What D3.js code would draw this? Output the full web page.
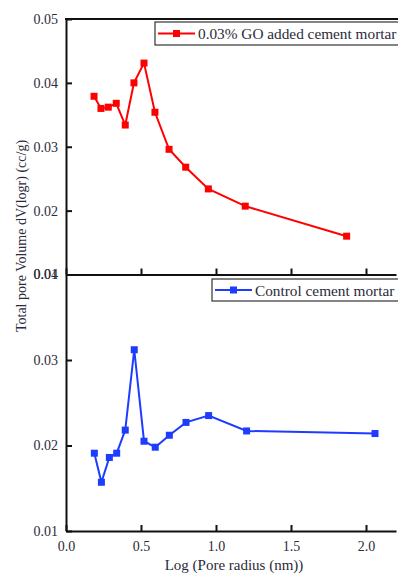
<!DOCTYPE html>
<html><head><meta charset="utf-8">
<script src="https://cdn.jsdelivr.net/npm/d3@7"></script>
<style>body{margin:0;background:#fff;} svg{display:block;}</style>
</head><body>
<script>
// Data
const goX = [0.187,0.233,0.282,0.335,0.395,0.453,0.520,0.593,0.687,0.798,0.949,1.195,1.871];
const goY = [0.0379,0.0360,0.0362,0.0368,0.0334,0.0400,0.0431,0.0354,0.0296,0.0268,0.0234,0.0207,0.0160];
const ctrlX = [0.189,0.236,0.289,0.338,0.395,0.455,0.520,0.595,0.689,0.800,0.951,1.204,2.060];
const ctrlY = [0.0191,0.0157,0.0186,0.0191,0.0218,0.0312,0.0205,0.0198,0.0212,0.0227,0.0235,0.0217,0.0214];
const xTicks = [0.0,0.5,1.0,1.5,2.0];
const topYTicks = [0.01,0.02,0.03,0.04,0.05];
const botYTicks = [0.01,0.02,0.03,0.04];
const goLabel = "0.03% GO added cement mortar";
const ctrlLabel = "Control cement mortar";
const xTitle = "Log (Pore radius (nm))";
const yTitle = "Total pore Volume dV(logr) (cc/g)";

const W = 398, H = 574;
const FONT = "'Liberation Serif', serif";
const svg = d3.select("body").append("svg").attr("width",W).attr("height",H);

const x = d3.scaleLinear().domain([0,2.2]).range([66,396]);
const yTop = d3.scaleLinear().domain([0.01,0.05]).range([274.5,19]);
const yBot = d3.scaleLinear().domain([0.01,0.04]).range([531,274.5]);
const RED = "#ff0000", BLUE = "#1e3cff", TXT = "#2b2b3a";

function panel(y, yticks, xs, ys, color, topLine){
  const g = svg.append("g");
  const ya = g.append("g").attr("transform","translate(66,0)")
    .call(d3.axisLeft(y).tickValues(yticks).tickFormat(d3.format(".2f")).tickSizeInner(-6).tickSizeOuter(0).tickPadding(8));
  ya.select(".domain").attr("stroke","#111").attr("stroke-width",2);
  ya.selectAll(".tick line").attr("stroke","#111").attr("stroke-width",2);
  ya.selectAll("text").attr("font-family",FONT).attr("font-size",14).attr("fill",TXT);
  const xa = g.append("g").attr("transform",`translate(0,${y.range()[0]})`)
    .call(d3.axisBottom(x).tickValues(xTicks).tickSizeInner(-6).tickSizeOuter(0).tickFormat(d3.format(".1f")).tickPadding(10));
  xa.select(".domain").attr("stroke","#111").attr("stroke-width",2);
  xa.selectAll(".tick line").attr("stroke","#111").attr("stroke-width",2);
  xa.selectAll("text").attr("font-family",FONT).attr("font-size",14).attr("fill",TXT);
  if(topLine){ g.append("line").attr("x1",65).attr("x2",W).attr("y1",y.range()[1]).attr("y2",y.range()[1]).attr("stroke","#111").attr("stroke-width",2); }
  const pts = xs.map((v,i)=>[v,ys[i]]);
  g.append("path").datum(pts).attr("fill","none").attr("stroke",color).attr("stroke-width",2)
    .attr("d", d3.line().x(d=>x(d[0])).y(d=>y(d[1])));
  g.selectAll("rect.m").data(pts).enter().append("rect").attr("class","m")
    .attr("x",d=>x(d[0])-3.5).attr("y",d=>y(d[1])-3.5).attr("width",7).attr("height",7).attr("fill",color);
  return {g, xa};
}
const topPanel = panel(yTop, topYTicks, goX, goY, RED, true);
topPanel.xa.selectAll("text").remove();
const botPanel = panel(yBot, botYTicks, ctrlX, ctrlY, BLUE, false);

function legend(x0,y0,h,label,color){
  const g = svg.append("g");
  g.append("rect").attr("x",x0).attr("y",y0).attr("width",W-x0+20).attr("height",h)
    .attr("fill","#fff").attr("stroke","#333").attr("stroke-width",1.2);
  const cy = y0+h/2;
  g.append("line").attr("x1",x0+3).attr("x2",x0+40).attr("y1",cy).attr("y2",cy).attr("stroke",color).attr("stroke-width",2);
  g.append("rect").attr("x",x0+18).attr("y",cy-3.5).attr("width",7).attr("height",7).attr("fill",color);
  g.append("text").attr("x",x0+43).attr("y",cy+5.5).attr("font-family",FONT).attr("font-size",15.3).attr("fill",TXT).text(label);
}
legend(155,22,23,goLabel,RED);
legend(212,279,22,ctrlLabel,BLUE);

svg.append("text").attr("x",234).attr("y",570).attr("text-anchor","middle")
  .attr("font-family",FONT).attr("font-size",15).attr("fill",TXT).text(xTitle);
svg.append("text").attr("transform","translate(26,236) rotate(-90)").attr("text-anchor","middle")
  .attr("font-family",FONT).attr("font-size",14).attr("fill",TXT).text(yTitle);
</script>
</body></html>
